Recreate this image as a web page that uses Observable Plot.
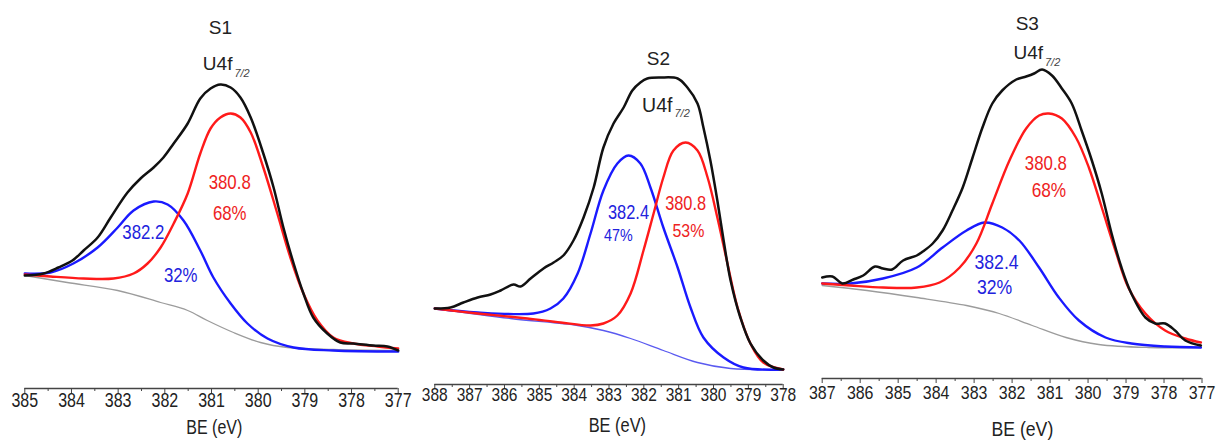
<!DOCTYPE html>
<html><head><meta charset="utf-8">
<script src="https://cdn.jsdelivr.net/npm/d3@7"></script>
<script src="https://cdn.jsdelivr.net/npm/@observablehq/plot@0.6"></script>
<style>
body{margin:0;background:#fff;}
#wrap{position:relative;width:1221px;height:441px;overflow:hidden;background:#fff;}
#wrap svg{position:absolute;top:0;}
</style></head><body><div id="wrap"></div>
<script>
// ---- S1 data: [BE (eV), intensity (a.u.)] ----
const s1Envelope = [[385.0,75],[384.6,77],[384.28,83],[383.98,90],[383.74,100],[383.44,113],[383.16,133],[382.80,158],[382.52,172],[382.24,183],[382.03,193],[381.81,207],[381.51,227],[381.24,252],[381.02,262],[380.81,266],[380.59,263],[380.38,253],[380.16,233],[379.89,197],[379.67,163],[379.46,123],[379.24,87],[379.03,57],[378.82,33],[378.52,17],[378.24,8],[377.96,7],[377.53,5],[377.23,4],[377.0,0]];
const s1Peak380 = [[385.0,76],[384.45,74],[383.74,72],[383.10,72],[382.67,77],[382.37,87],[382.09,103],[381.81,127],[381.51,157],[381.24,197],[381.02,222],[380.81,233],[380.59,237],[380.38,233],[380.16,218],[379.89,183],[379.59,137],[379.31,93],[379.03,57],[378.73,30],[378.39,13],[377.96,7],[377.44,4],[377.0,2]];
const s1Peak382 = [[385.0,77],[384.45,78],[383.96,87],[383.44,103],[383.01,123],[382.67,140],[382.24,149],[381.94,146],[381.60,130],[381.24,100],[380.96,73],[380.59,47],[380.23,27],[379.80,12],[379.24,3],[378.39,0],[377.0,-1]];
const s1Background = [[385.0,75],[384.09,68],[383.01,60],[382.09,48],[381.51,40],[381.09,30],[380.53,18],[379.95,8],[379.37,3],[378.39,1],[377.0,0]];
const s1Texts = {title:"S1", line:"U4f", sub:"7/2", red:["380.8","68%"], blue:["382.2","32%"]};

// ---- S2 data ----
const s2Envelope = [[388.0,61],[387.55,62],[387.18,67],[386.77,72],[386.40,75],[386.11,79],[385.74,85],[385.54,83],[385.25,91],[384.88,101],[384.59,107],[384.31,114],[384.02,129],[383.73,152],[383.44,182],[383.16,222],[382.87,246],[382.58,262],[382.33,279],[382.10,287],[381.90,291],[381.52,292],[381.03,291],[380.75,282],[380.46,266],[380.29,242],[380.09,209],[379.89,169],[379.71,129],[379.51,89],[379.23,52],[378.94,26],[378.57,9],[378.28,2],[378.0,0]];
const s2Peak380 = [[388.0,61],[386.77,56],[385.34,51],[384.39,47],[383.53,44],[383.16,46],[382.76,54],[382.38,76],[382.01,119],[381.72,156],[381.44,192],[381.15,219],[380.80,227],[380.46,219],[380.17,192],[379.89,152],[379.60,106],[379.31,62],[378.94,26],[378.57,7],[378.0,0]];
const s2Peak382 = [[388.0,61],[386.77,57],[385.17,56],[384.68,61],[384.31,71],[383.90,96],[383.53,136],[383.16,179],[382.76,206],[382.44,214],[382.10,206],[381.81,182],[381.44,142],[381.03,102],[380.66,62],[380.29,32],[379.71,12],[379.14,2],[378.0,0]];
const s2Background = [[388.0,61],[385.83,51],[383.90,44],[383.16,39],[382.38,31],[381.44,19],[380.46,7],[379.51,1],[378.0,0]];
const s2Texts = {title:"S2", line:"U4f", sub:"7/2", red:["380.8","53%"], blue:["382.4","47%"]};

// ---- S3 data ----
const s3Envelope = [[387.0,70],[386.73,71],[386.47,64],[386.18,68],[385.92,72],[385.61,81],[385.40,79],[385.16,78],[384.87,87],[384.51,92],[384.35,96],[384.09,104],[383.83,117],[383.57,137],[383.30,160],[383.04,190],[382.78,220],[382.52,244],[382.26,257],[381.89,268],[381.63,271],[381.42,274],[381.21,278],[380.95,272],[380.69,259],[380.43,244],[380.17,217],[379.90,187],[379.64,154],[379.38,114],[379.12,80],[378.86,54],[378.49,30],[378.23,24],[377.97,24],[377.71,17],[377.44,7],[377.03,2]];
const s3Peak380 = [[387.0,64],[386.26,62],[385.40,60],[384.51,60],[383.91,65],[383.38,80],[382.94,104],[382.52,144],[382.07,187],[381.63,219],[381.29,232],[381.03,234],[380.69,229],[380.32,210],[379.98,180],[379.64,140],[379.28,97],[378.94,60],[378.49,34],[377.97,17],[377.44,9],[377.03,5]];
const s3Peak382 = [[387.0,64],[386.26,64],[385.40,69],[384.51,80],[383.83,100],[383.20,117],[382.73,125],[382.26,120],[381.81,107],[381.29,80],[380.77,50],[380.24,27],[379.54,10],[378.86,4],[377.97,1],[377.03,0]];
const s3Background = [[387.0,62],[385.82,57],[384.51,50],[383.20,42],[382.34,34],[381.47,22],[380.58,10],[379.72,3],[378.41,0],[377.03,0]];
const s3Texts = {title:"S3", line:"U4f", sub:"7/2", red:["380.8","68%"], blue:["382.4","32%"]};

const axisTitle = "BE (eV)";

const rows = a => a.map(([be, i]) => ({be, i}));

const RED = "#ff1a1a", BLUE = "#1a1aff", BLACK = "#111", GRAY = "#9c9c9c";
const RED_T = "#ee2222", BLUE_T = "#2222dd";

function panel(c) {
  const [xHi, xLo] = c.xDomain;
  const majors = d3.range(xLo, xHi + 0.001, 1);
  const minors = d3.range(xLo + 0.5, xHi, 1);
  const T = c.texts;
  const one = (t, p) => [{t, be: p[0], i: p[1]}];
  const svg = Plot.plot({
    width: c.width, height: 441,
    marginLeft: c.mL, marginRight: c.mR, marginTop: 0, marginBottom: c.mB,
    x: {domain: c.xDomain, label: null},
    y: {domain: c.yDomain, axis: null},
    style: {fontFamily: "'Liberation Sans', Arial, sans-serif", fontSize: "17px", background: "transparent", overflow: "visible", color: "#222"},
    marks: [
      Plot.ruleY([c.yDomain[0]], {stroke: "#444", strokeWidth: 1.3}),
      Plot.axisX(minors, {tickSize: 3, text: null, stroke: "#444", label: null}),
      Plot.axisX(majors, {tickSize: c.tick, tickPadding: c.pad, tickFormat: d => String(d), stroke: "#444", fill: "#222", fontSize: c.fsTick, label: null}),
      Plot.line(rows(c.bg), {x: "be", y: "i", stroke: c.bgColor, strokeWidth: 1.3, curve: "catmull-rom"}),
      Plot.line(rows(c.blue), {x: "be", y: "i", stroke: BLUE, strokeWidth: 2.4, curve: "catmull-rom"}),
      Plot.line(rows(c.red), {x: "be", y: "i", stroke: RED, strokeWidth: 2.4, curve: "catmull-rom"}),
      Plot.line(rows(c.env), {x: "be", y: "i", stroke: BLACK, strokeWidth: 2.5, curve: "catmull-rom"}),
      Plot.text(one(T.title, c.titleAt), {x: "be", y: "i", text: "t", fill: "#222", fontSize: 19}),
      Plot.text(one(T.line, c.u4fAt), {x: "be", y: "i", text: "t", fill: "#222", fontSize: c.fsU, textAnchor: "end", dx: -1}),
      Plot.text(one(T.sub, c.subAt), {x: "be", y: "i", text: "t", fill: "#444", fontSize: c.fsSub, fontStyle: "italic", textAnchor: "start", dx: 1}),
      Plot.text(one(T.red[0], c.red0), {x: "be", y: "i", text: "t", fill: RED_T, fontSize: c.fsR0}),
      Plot.text(one(T.red[1], c.red1), {x: "be", y: "i", text: "t", fill: RED_T, fontSize: c.fsR1}),
      Plot.text(one(T.blue[0], c.blue0), {x: "be", y: "i", text: "t", fill: BLUE_T, fontSize: c.fsB0}),
      Plot.text(one(T.blue[1], c.blue1), {x: "be", y: "i", text: "t", fill: BLUE_T, fontSize: c.fsB1}),
      Plot.text(one(axisTitle, c.axisAt), {x: "be", y: "i", text: "t", fill: "#222", fontSize: c.fsAxis})
    ]
  });
  svg.style.left = c.left + "px";
  document.getElementById("wrap").appendChild(svg);
  // the reference typeface is a narrow one: compress glyphs horizontally
  // (titles and the U4f label, whose pieces are anchored to each other, excepted)
  const keep = new Set([T.title, T.line, T.sub]);
  svg.querySelectorAll("text").forEach(t => {
    const s = t.textContent;
    if (keep.has(s)) return;
    const w = t.getComputedTextLength();
    if (!w) return;
    t.setAttribute("textLength", (w * c.narrow).toFixed(1));
    t.setAttribute("lengthAdjust", "spacingAndGlyphs");
  });
}

panel({left: 0, width: 410, mL: 24.3, mR: 12.3, mB: 53, xDomain: [385, 377], yDomain: [-38, 350],
  env: s1Envelope, red: s1Peak380, blue: s1Peak382, bg: s1Background, bgColor: GRAY, texts: s1Texts,
  tick: 5, pad: -1, fsTick: 20, fsAxis: 20, fsU: 19, fsSub: 11, narrow: 0.8,
  titleAt: [380.81, 323], u4fAt: [380.53, 287], subAt: [380.53, 277],
  red0: [380.61, 168], red1: [380.61, 137], blue0: [382.46, 118], blue1: [381.66, 75],
  fsR0: 21, fsR1: 21, fsB0: 21, fsB1: 21, axisAt: [380.94, -77]});

panel({left: 410, width: 395, mL: 24.3, mR: 22.3, mB: 57, xDomain: [388, 378], yDomain: [-15, 369],
  env: s2Envelope, red: s2Peak380, blue: s2Peak382, bg: s2Background, bgColor: "#5a5af0", texts: s2Texts,
  tick: 4, pad: -1, fsTick: 18.5, fsAxis: 19.5, fsU: 19.5, fsSub: 11, narrow: 0.84,
  titleAt: [381.58, 311], u4fAt: [381.15, 264], subAt: [381.15, 256],
  red0: [380.80, 166], red1: [380.72, 139], blue0: [382.44, 157], blue1: [382.73, 134],
  fsR0: 19.5, fsR1: 19, fsB0: 19.5, fsB1: 17, axisAt: [382.76, -56]});

panel({left: 790, width: 431, mL: 31.7, mR: 19.5, mB: 63, xDomain: [387, 377], yDomain: [-31, 347],
  env: s3Envelope, red: s3Peak380, blue: s3Peak382, bg: s3Background, bgColor: GRAY, texts: s3Texts,
  tick: 5, pad: 2, fsTick: 19, fsAxis: 21, fsU: 19, fsSub: 11, narrow: 0.84,
  titleAt: [381.60, 324], u4fAt: [381.16, 295], subAt: [381.16, 285],
  red0: [381.11, 184], red1: [381.03, 157], blue0: [382.41, 85], blue1: [382.46, 60],
  fsR0: 20, fsR1: 20.5, fsB0: 21, fsB1: 21, axisAt: [381.73, -82]});
</script></body></html>
